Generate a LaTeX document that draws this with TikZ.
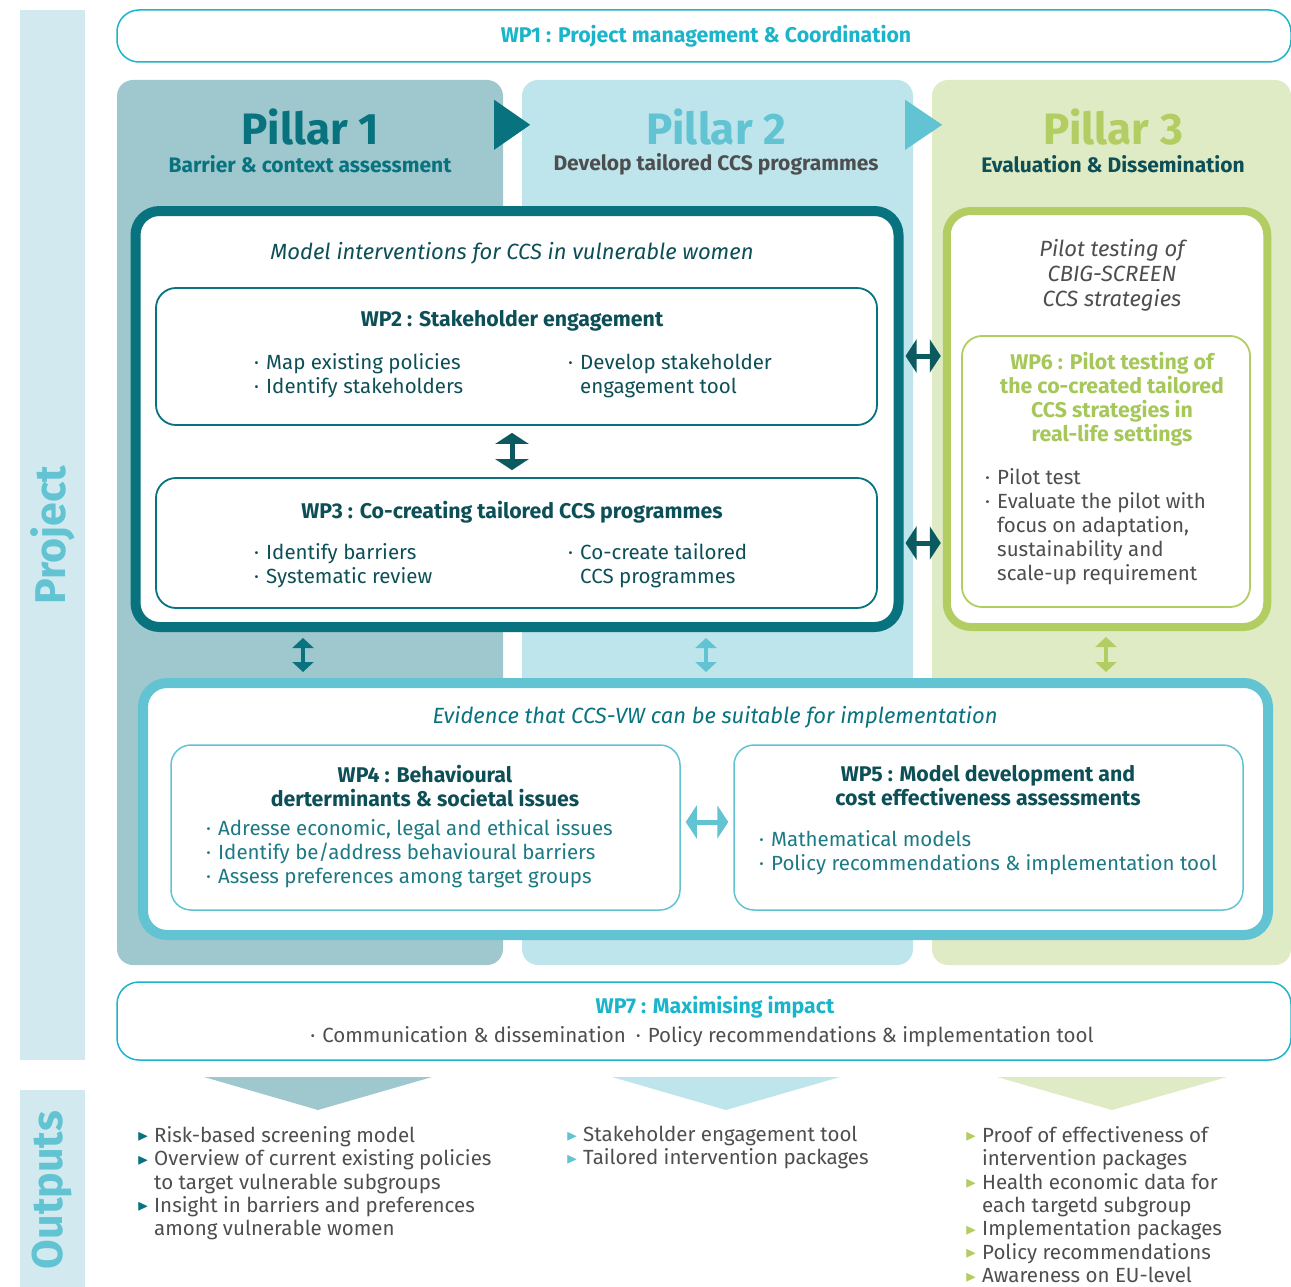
\documentclass[tikz,border=0pt]{standalone}
\usepackage{fontspec}
\setmainfont{Fira Sans}
\usepackage{amssymb}
\usetikzlibrary{arrows.meta,positioning,calc}
\definecolor{dteal}{HTML}{08737F}
\definecolor{pillarA}{HTML}{9EC8CD}
\definecolor{pillarB}{HTML}{BFE5EC}
\definecolor{pillarC}{HTML}{DFEBC4}
\definecolor{cyanmid}{HTML}{62C3D3}
\definecolor{cyanwp}{HTML}{1AB4CB}
\definecolor{leaf}{HTML}{B2CD62}
\definecolor{leaftext}{HTML}{A6C85A}
\definecolor{deep}{HTML}{0D4F57}
\definecolor{tealtext}{HTML}{1C7A85}
\definecolor{greytext}{HTML}{4D4E50}
\definecolor{sidebar}{HTML}{D2EAEF}
\definecolor{arrowdark}{HTML}{0B5A60}
\newcommand{\dotitem}{\makebox[12pt][l]{·}}
\newcommand{\tri}[1]{\makebox[17pt][l]{\raisebox{1.5pt}{\textcolor{#1}{\fontsize{15}{15}\selectfont$\blacktriangleright$}}}}

\begin{document}
\begin{tikzpicture}[x=1pt,y=-1pt,
    every node/.style={inner sep=0pt, font=\fontsize{20.5}{24}\selectfont},
    panel/.style={rounded corners=16pt, minimum height=885pt},
    pillar/.style={font=\fontsize{44}{44}\selectfont\bfseries},
    sub/.style={font=\fontsize{21}{24}\selectfont\bfseries},
    wpbox/.style={draw, line width=1.8pt, rounded corners=20pt, fill=white},
    bigbox/.style={draw, rounded corners=24pt, fill=white},
    wptitle/.style={font=\fontsize{21.3}{24}\selectfont\bfseries, align=center},
    slanted/.style={font=\fontsize{22}{25}\selectfont\itshape},
    list/.style={align=left, anchor=west},
    side/.style={rotate=90, text=cyanmid, font=\fontsize{43}{43}\selectfont\bfseries},
    twoway/.style={line width=5pt, {Triangle[width=33pt,length=11pt]}-{Triangle[width=33pt,length=11pt]}, shorten <=#1, shorten >=#1},
    twowaysm/.style={line width=4pt, {Triangle[width=21pt,length=10pt]}-{Triangle[width=21pt,length=10pt]}, shorten <=#1, shorten >=#1}]

  \useasboundingbox (0,0) rectangle (1291,1287);

  % side bars
  \node[fill=sidebar, minimum width=65pt, minimum height=1050pt] (projbar) at (52.5,535) {};
  \node[side] (projlbl) at (projbar) {Project};
  \node[fill=sidebar, minimum width=65pt, minimum height=200pt] (outbar) at (52.5,1190) {};
  \node[side] (outlbl) at (outbar) {Outputs};

  % WP1
  \node[draw=cyanwp, line width=1.5pt, rounded corners=22pt, minimum width=1174pt, minimum height=52pt] (wp1) at (704,36) {};
  \node[wptitle, text=cyanwp] (wp1t) at (706,36) {WP1 : Project management \& Coordination};

  % pillars
  \node[panel, fill=pillarA, minimum width=386pt] (p1) at (310,522.5) {};
  \node[panel, fill=pillarB, minimum width=391pt] (p2) at (717.5,522.5) {};
  \node[panel, fill=pillarC, minimum width=359pt] (p3) at (1111.5,522.5) {};
  \fill[dteal] ($(p1.north east)+(-9,20)$) -- ++(36,25) -- ++(-36,25) -- cycle;
  \fill[cyanmid] ($(p2.north east)+(-8,20)$) -- ++(37,25) -- ++(-37,25) -- cycle;

  \node[pillar, text=dteal] (p1t) at (310,127) {Pillar 1};
  \node[sub, text=dteal] (p1s) at (310,164) {Barrier \& context assessment};
  \node[pillar, text=cyanmid] (p2t) at (716,127) {Pillar 2};
  \node[sub, text=greytext] (p2s) at (716,164) {Develop tailored CCS programmes};
  \node[pillar, text=leaf] (p3t) at (1113,127) {Pillar 3};
  \node[sub, text=deep] (p3s) at (1113,164) {Evaluation \& Dissemination};

  % pillar 1 and 2 block
  \node[bigbox, draw=dteal, line width=10pt, minimum width=763pt, minimum height=416pt] (model) at (517,419) {};
  \node[slanted, text=deep] (modelt) at (512,253) {Model interventions for CCS in vulnerable women};

  \node[wpbox, draw=dteal, minimum width=721pt, minimum height=137pt] (wp2) at (516.5,356.5) {};
  \node[wptitle, text=deep] (wp2t) at (512,321) {WP2 : Stakeholder engagement};
  \node[list, text=deep] (wp2l) at (254,376) {\dotitem Map existing policies\\\dotitem Identify stakeholders};
  \node[list, text=deep] (wp2r) at (568,376) {\dotitem Develop stakeholder\\\hspace*{12pt}engagement tool};

  \node[wpbox, draw=dteal, minimum width=721pt, minimum height=130pt] (wp3) at (516.5,543) {};
  \node[wptitle, text=deep] (wp3t) at (512,512) {WP3 : Co-creating tailored CCS programmes};
  \node[list, text=deep] (wp3l) at (254,566) {\dotitem Identify barriers\\\dotitem Systematic review};
  \node[list, text=deep] (wp3r) at (568,566) {\dotitem Co-create tailored\\\hspace*{12pt}CCS programmes};

  \draw[twoway=7pt, arrowdark] (wp2.south -| wp2t) -- (wp3.north -| wp2t);

  % pillar 3 block
  \node[bigbox, draw=leaf, line width=8pt, minimum width=320.5pt, minimum height=416pt] (pilot) at (1107,419) {};
  \node[slanted, text=greytext, align=center] (pilott) at (1112,275) {Pilot testing of\\CBIG-SCREEN\\CCS strategies};
  \node[wpbox, draw=leaf, minimum width=288pt, minimum height=271pt] (wp6) at (1106,471.5) {};
  \node[wptitle, text=leaftext] (wp6t) at (1112,399) {WP6 : Pilot testing of\\the co-created tailored\\CCS strategies in\\real-life settings};
  \node[list, text=greytext] (wp6l) at (985,527) {\dotitem Pilot test\\\dotitem Evaluate the pilot with\\\hspace*{12pt}focus on adaptation,\\\hspace*{12pt}sustainability and\\\hspace*{12pt}scale-up requirement};

  \coordinate (r1) at (0,356);
  \coordinate (r2) at (0,543);
  \draw[twoway=2pt, arrowdark] (model.east |- r1) -- (pilot.west |- r1);
  \draw[twoway=2pt, arrowdark] (model.east |- r2) -- (pilot.west |- r2);

  % evidence block
  \node[bigbox, draw=cyanmid, line width=10pt, minimum width=1125pt, minimum height=252pt] (evid) at (705.5,809) {};
  \node[slanted, text=dteal] (evidt) at (715,717) {Evidence that CCS-VW can be suitable for implementation};

  \node[wpbox, draw=cyanmid, line width=1.5pt, minimum width=509pt, minimum height=165pt] (wp4) at (425.5,827.5) {};
  \node[wptitle, text=deep] (wp4t) at (425,786) {WP4 : Behavioural\\derterminants \& societal issues};
  \node[list, text=tealtext] (wp4l) at (206,854) {\dotitem Adresse economic, legal and ethical issues\\\dotitem Identify be/address behavioural barriers\\\dotitem Assess preferences among target groups};

  \node[wpbox, draw=cyanmid, line width=1.5pt, minimum width=509pt, minimum height=165pt] (wp5) at (988.5,827.5) {};
  \node[wptitle, text=deep] (wp5t) at (988,786) {WP5 : Model development and\\cost effectiveness assessments};
  \node[list, text=tealtext] (wp5l) at (759,853) {\dotitem Mathematical models\\\dotitem Policy recommendations \& implementation tool};

  \coordinate (r3) at (0,822);
  \draw[twoway=5pt, cyanmid] (wp4.east |- r3) -- (wp5.west |- r3);

  \coordinate (c1) at (303,0);
  \coordinate (c2) at (706,0);
  \coordinate (c3) at (1106,0);
  \draw[twowaysm=6pt, dteal] (model.south -| c1) -- (evid.north -| c1);
  \draw[twowaysm=6pt, cyanmid] (model.south -| c2) -- (evid.north -| c2);
  \draw[twowaysm=6pt, leaf] (pilot.south -| c3) -- (evid.north -| c3);

  % WP7
  \node[draw=cyanwp, line width=1.5pt, rounded corners=22pt, minimum width=1174pt, minimum height=78pt] (wp7) at (704,1021) {};
  \node[wptitle, text=cyanwp] (wp7t) at (715,1007) {WP7 : Maximising impact};
  \node[text=greytext] (wp7l) at (702,1037) {\dotitem Communication \& dissemination\hspace{10pt}\dotitem Policy recommendations \& implementation tool};

  % outputs
  \fill[pillarA] (204,1077) -- (432,1077) -- (318,1110) -- cycle;
  \fill[pillarB] (612,1077) -- (840,1077) -- (726,1110) -- cycle;
  \fill[pillarC] (997,1077) -- (1227,1077) -- (1112,1110) -- cycle;

  \node[list, anchor=north west, text=greytext, font=\fontsize{20.5}{23.4}\selectfont] (out1) at (137,1126) {\tri{dteal}Risk-based screening model\\\tri{dteal}Overview of current existing policies\\\hspace*{17pt}to target vulnerable subgroups\\\tri{dteal}Insight in barriers and preferences\\\hspace*{17pt}among vulnerable women};
  \node[list, anchor=north west, text=greytext, font=\fontsize{20.5}{23.4}\selectfont] (out2) at (566,1126) {\tri{cyanmid}Stakeholder engagement tool\\\tri{cyanmid}Tailored intervention packages};
  \node[list, anchor=north west, text=greytext, font=\fontsize{20.5}{23.4}\selectfont] (out3) at (965,1126) {\tri{leaf}Proof of effectiveness of\\\hspace*{17pt}intervention packages\\\tri{leaf}Health economic data for\\\hspace*{17pt}each targetd subgroup\\\tri{leaf}Implementation packages\\\tri{leaf}Policy recommendations\\\tri{leaf}Awareness on EU-level};
\end{tikzpicture}
\end{document}
